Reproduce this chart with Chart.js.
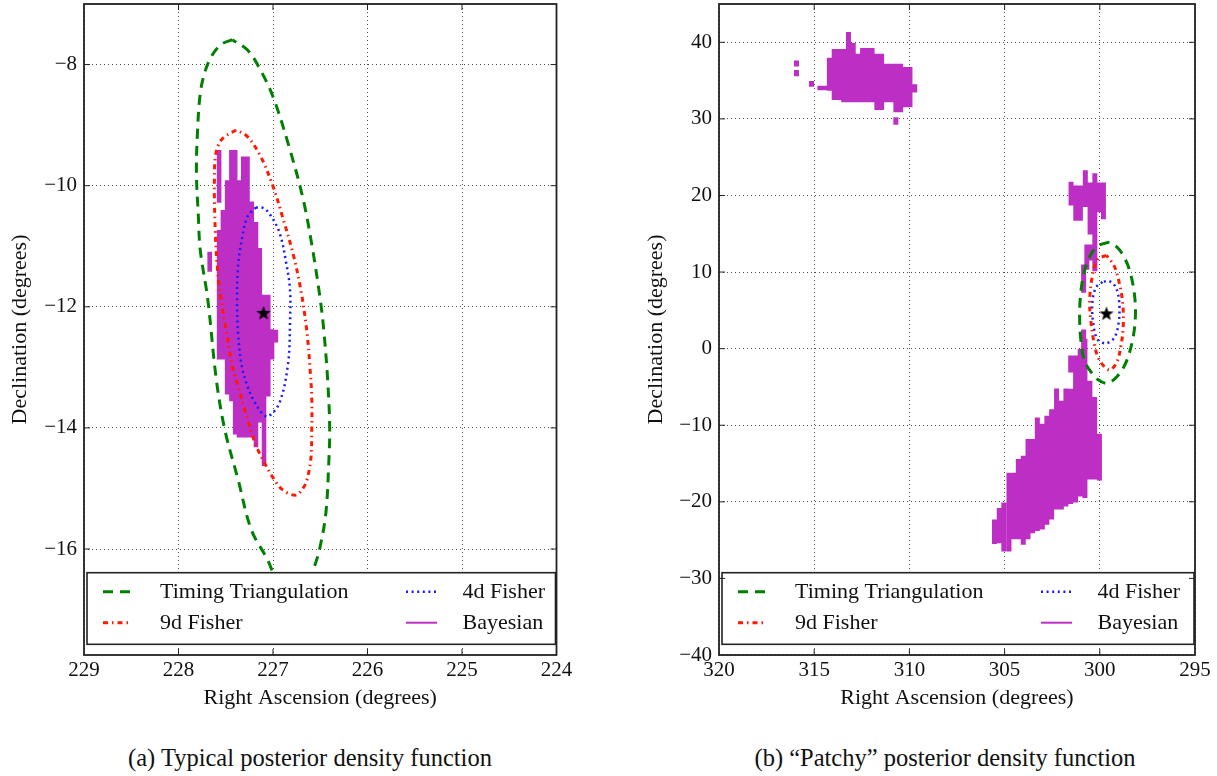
<!DOCTYPE html>
<html>
<head>
<meta charset="utf-8">
<script src="https://cdn.jsdelivr.net/npm/chart.js@4.4.1/dist/chart.umd.min.js"></script>
<style>
  body { margin: 0; background: #fff; width: 1217px; height: 776px; position: relative; overflow: hidden; font-family: "Liberation Serif", serif; }
  #wrapA { position: absolute; left: 0; top: -6px; }
  #wrapB { position: absolute; left: 636px; top: -6px; }
  .cap { position: absolute; top: 744px; font-size: 24.5px; line-height: 28px; white-space: nowrap; transform: translateX(-50%); color: #111; }
</style>
</head>
<body>
<div id="wrapA"><canvas id="chartA" width="600" height="717"></canvas></div>
<div id="wrapB"><canvas id="chartB" width="581" height="717"></canvas></div>
<div class="cap" style="left:310px">(a) Typical posterior density function</div>
<div class="cap" style="left:945px">(b) “Patchy” posterior density function</div>
<script>
// series names, same in both panels
const seriesLabels = ["Timing Triangulation", "9d Fisher", "4d Fisher", "Bayesian"];

// axis ranges [min, max]
const leftRA = [224, 229];
const leftDec = [-17.75, -7];
const rightRA = [295, 320];
const rightDec = [-40, 45];

// (a) contours as [RA, Dec]
const leftTriangulation = [[227.43,-7.59],[227.55,-7.67],[227.65,-7.86],[227.72,-8.12],[227.77,-8.48],[227.80,-9.14],[227.81,-9.8],[227.79,-10.5],[227.77,-11.06],[227.69,-11.88],[227.6,-13.2],[227.51,-14.03],[227.37,-14.85],[227.23,-15.68],[227.06,-16.17],[226.95,-16.55],[226.8,-16.8],[226.65,-16.6],[226.56,-16.28],[226.5,-15.95],[226.44,-15.4],[226.41,-14.58],[226.40,-14.0],[226.42,-13.25],[226.46,-12.43],[226.5,-11.88],[226.58,-11.06],[226.68,-10.23],[226.82,-9.41],[227.0,-8.53],[227.15,-8.04],[227.27,-7.76],[227.43,-7.59]];
const leftFisher9 = [[227.39,-9.08],[227.51,-9.19],[227.57,-9.3],[227.61,-9.52],[227.62,-9.9],[227.62,-10.23],[227.61,-10.78],[227.59,-11.33],[227.55,-11.88],[227.49,-12.43],[227.43,-12.98],[227.37,-13.31],[227.29,-13.75],[227.19,-14.25],[227.11,-14.52],[227.0,-14.82],[226.9,-15.02],[226.76,-15.11],[226.68,-14.99],[226.64,-14.85],[226.6,-14.52],[226.59,-14.03],[226.59,-13.5],[226.61,-12.98],[226.64,-12.43],[226.7,-11.77],[226.78,-11.17],[226.9,-10.51],[227.0,-10.01],[227.13,-9.52],[227.27,-9.19],[227.39,-9.08]];
const leftFisher4 = [[227.18,-10.36],[227.27,-10.51],[227.33,-10.89],[227.37,-11.33],[227.38,-11.88],[227.37,-12.43],[227.33,-12.98],[227.27,-13.31],[227.21,-13.53],[227.12,-13.75],[227.05,-13.81],[226.93,-13.58],[226.84,-12.93],[226.82,-12.27],[226.82,-11.72],[226.86,-11.28],[226.93,-10.78],[227.03,-10.48],[227.1,-10.37],[227.18,-10.36]];
// posterior cells as [RA, Dec low, Dec high]
const leftBayesCols = [[227.67,-11.42,-11.09],[227.57,-10.28,-9.41],[227.57,-12.87,-10.73],[227.53,-12.87,-10.40],[227.485,-13.45,-9.91],[227.44,-13.56,-9.41],[227.40,-14.11,-9.41],[227.36,-14.16,-9.91],[227.315,-14.16,-9.52],[227.27,-14.16,-9.52],[227.225,-14.16,-10.26],[227.18,-14.32,-10.6],[227.14,-13.91,-11.03],[227.095,-14.63,-11.80],[227.05,-13.48,-11.80],[227.01,-12.87,-12.37],[226.97,-12.59,-12.38]];
const leftInjection = [227.1, -12.1];

// (b)
const rightTriangulation = [[299.51,13.91],[300.12,13.39],[300.56,11.87],[300.83,9.91],[301.0,7.3],[301.06,4.26],[301.0,1.22],[300.83,-1.39],[300.56,-2.7],[300.12,-4.0],[299.6,-4.52],[299.07,-3.57],[298.63,-1.83],[298.27,1.22],[298.13,4.26],[298.19,7.3],[298.45,10.35],[298.8,12.3],[299.15,13.39],[299.51,13.91]];
const rightFisher9 = [[299.65,12.17],[300.12,11.65],[300.39,9.48],[300.53,6.43],[300.48,3.83],[300.3,0.78],[300.04,-1.39],[299.51,-2.78],[299.12,-1.83],[298.89,0.35],[298.77,2.96],[298.8,6.0],[298.98,8.61],[299.24,10.78],[299.65,12.17]];
const rightFisher4 = [[299.86,8.7],[300.21,7.96],[300.39,6.0],[300.35,3.39],[300.12,1.22],[299.68,0.7],[299.24,1.43],[299.01,3.39],[298.98,6.0],[299.15,7.96],[299.51,8.83],[299.86,8.7]];
const rightBayesCols = [
  // north patch
  [315.93,36.85,37.63],[315.93,35.56,36.38],[315.14,34.18,34.96],[314.70,33.75,34.31],[314.45,33.75,34.31],[314.20,33.66,37.97],[313.95,32.46,39.14],[313.70,32.46,39.14],[313.45,32.16,39.14],[313.20,32.16,41.34],[312.95,32.16,39.91],[312.70,32.16,38.49],[312.46,32.16,39.27],[312.21,32.16,39.27],[311.96,32.16,39.27],[311.71,31.16,38.49],[311.46,31.16,38.49],[311.21,32.16,37.20],[310.96,32.16,37.20],[310.71,30.86,37.20],[310.71,29.23,30.22],[310.46,30.86,37.20],[310.21,31.51,36.77],[309.97,31.51,36.77],[309.72,33.45,34.53],
  // middle patch
  [301.51,18.7,21.8],[301.26,16.7,21.3],[301.02,16.7,21.3],[300.76,18.5,23.3],[300.51,14.9,21.7],[300.51,11.5,13.6],[300.26,10.1,22.9],[300.02,17.8,21.7],[299.81,16.9,21.7],[300.85,7.3,11.0],[300.85,-1.0,2.5],[300.68,10.3,13.6],
  // south patch
  [305.53,-25.5,-22.3],[305.28,-25.4,-20.8],[305.04,-26.5,-20.1],[304.77,-26.5,-16.2],[304.53,-24.9,-16.2],[304.28,-24.9,-14.4],[304.02,-25.6,-14.0],[303.77,-24.9,-11.8],[303.53,-24.1,-11.8],[303.28,-23.8,-9.0],[303.02,-23.6,-9.8],[302.78,-23.0,-8.75],[302.53,-22.3,-7.9],[302.27,-21.0,-5.2],[302.02,-21.0,-6.8],[301.78,-20.6,-5.2],[301.53,-20.3,-5.25],[301.53,-3.1,-0.9],[301.27,-20.1,-0.9],[301.03,-19.3,0.0],[300.78,-19.5,1.3],[300.52,-17.1,-4.2],[300.27,-17.1,-6.3],[300.02,-17.2,-11.1]
];
const rightInjection = [299.65, 4.6];

const colors = { tri: "#008000", f9: "#ff1a00", f4: "#1a1aff", bayes: "#bd2fc4" };

Chart.defaults.font.family = "'Liberation Serif', serif";
Chart.defaults.color = "#000";

// filled five-point star for the injection point
const starImg = document.createElement("canvas");
starImg.width = 18; starImg.height = 18;
(function () {
  const c = starImg.getContext("2d");
  c.beginPath();
  for (let i = 0; i < 10; i++) {
    const r = i % 2 ? 3.1 : 7.6;
    const a = -Math.PI / 2 + i * Math.PI / 5;
    c.lineTo(9 + r * Math.cos(a), 9.6 + r * Math.sin(a));
  }
  c.closePath();
  c.fillStyle = "#000";
  c.fill();
})();

const toXY = arr => arr.map(p => ({ x: p[0], y: p[1] }));
function colsToPoints(cols) {
  const pts = [];
  cols.forEach(([ra, lo, hi]) => {
    pts.push({ x: ra, y: lo }, { x: ra, y: hi }, { x: ra, y: null });
  });
  return pts;
}
const minus = v => String(v).replace("-", "\u2212");

// legend box inside the plot + frame with inward ticks
const framePlugin = {
  id: "frameLegend",
  afterDatasetsDraw(chart) {
    const { ctx, chartArea: ca, scales } = chart;
    const ds = chart.data.datasets;
    ctx.save();
    // legend
    const bx = ca.left + 3, bw = ca.right - 1 - bx;
    const by = ca.bottom - 82.3, bh = 71.6;
    ctx.fillStyle = "#fff";
    ctx.fillRect(bx, by, bw, bh);
    ctx.strokeStyle = "#222";
    ctx.lineWidth = 1.6;
    ctx.strokeRect(bx, by, bw, bh);
    const rows = [ca.bottom - 63.3, ca.bottom - 32.3];
    const cols = [[19, 46, 76], [322, 353, 378.5]];
    const slots = [[1, 0, 0], [2, 0, 1], [3, 1, 0], [4, 1, 1]];
    ctx.font = "22px 'Liberation Serif', serif";
    ctx.textBaseline = "middle";
    ctx.textAlign = "left";
    slots.forEach(([di, c, r]) => {
      const d = ds[di];
      const y = rows[r];
      ctx.beginPath();
      ctx.setLineDash(d.borderDash || []);
      ctx.strokeStyle = d.borderColor;
      ctx.lineWidth = di === 4 ? 2 : d.borderWidth;
      ctx.moveTo(ca.left + cols[c][0], y);
      ctx.lineTo(ca.left + cols[c][1], y);
      ctx.stroke();
      ctx.setLineDash([]);
      ctx.fillStyle = "#111";
      ctx.fillText(d.label, ca.left + cols[c][2], y + 1);
    });
    // frame
    ctx.strokeStyle = "#222";
    ctx.lineWidth = 1.8;
    ctx.strokeRect(ca.left, ca.top, ca.right - ca.left, ca.bottom - ca.top);
    ctx.lineWidth = 1;
    ctx.beginPath();
    scales.x.ticks.forEach(t => {
      const px = scales.x.getPixelForValue(t.value);
      if (px <= ca.left + 1 || px >= ca.right - 1) return;
      ctx.moveTo(px, ca.bottom); ctx.lineTo(px, ca.bottom - 6);
      ctx.moveTo(px, ca.top); ctx.lineTo(px, ca.top + 6);
    });
    scales.y.ticks.forEach(t => {
      const py = scales.y.getPixelForValue(t.value);
      if (py <= ca.top + 1 || py >= ca.bottom - 1) return;
      ctx.moveTo(ca.left, py); ctx.lineTo(ca.left + 6, py);
      ctx.moveTo(ca.right, py); ctx.lineTo(ca.right - 6, py);
    });
    ctx.stroke();
    ctx.restore();
  }
};

function buildChart(id, p) {
  const line = (label, data, color, width, dash) => ({
    label, data: toXY(data), showLine: true, borderColor: color, backgroundColor: color,
    borderWidth: width, borderDash: dash, pointRadius: 0, tension: 0.35, fill: false
  });
  new Chart(document.getElementById(id), {
    type: "scatter",
    data: {
      datasets: [
        { label: "injection", data: [{ x: p.star[0], y: p.star[1] }], pointStyle: starImg, pointRadius: 9, showLine: false },
        line(seriesLabels[0], p.tri, colors.tri, 3, [10, 7]),
        line(seriesLabels[1], p.f9, colors.f9, 3, [5, 4, 1.5, 4]),
        line(seriesLabels[2], p.f4, colors.f4, 2.5, [2, 3.6]),
        {
          label: seriesLabels[3], data: colsToPoints(p.bayes), showLine: true, spanGaps: false,
          borderColor: colors.bayes, backgroundColor: colors.bayes, borderWidth: p.cellWidth,
          borderCapStyle: "butt", pointRadius: 0, tension: 0
        }
      ]
    },
    options: {
      responsive: false,
      animation: false,
      layout: { padding: { left: 0, top: 4, right: p.padRight, bottom: 0 } },
      plugins: { legend: { display: false }, tooltip: { enabled: false } },
      scales: {
        x: {
          type: "linear", reverse: true, min: p.ra[0], max: p.ra[1],
          afterFit: s => { s.height = 56; s.paddingLeft = 0; s.paddingRight = 0; },
          ticks: { stepSize: p.raStep, includeBounds: false, padding: 3, font: { size: 21 }, color: "#111", callback: minus, maxRotation: 0 },
          grid: { color: "rgba(0,0,0,0.7)", lineWidth: 1, drawTicks: false },
          border: { display: false, dash: [1, 3] },
          title: { display: true, text: "Right Ascension (degrees)", font: { size: 22 }, color: "#111", padding: { top: 0, bottom: 0 } }
        },
        y: {
          type: "linear", min: p.dec[0], max: p.dec[1],
          afterFit: s => { s.width = p.yWidth; s.paddingTop = 0; s.paddingBottom = 0; },
          ticks: { stepSize: p.decStep, includeBounds: false, padding: 7, font: { size: 21 }, color: "#111", callback: minus },
          grid: { color: "rgba(0,0,0,0.7)", lineWidth: 1, drawTicks: false },
          border: { display: false, dash: [1, 3] },
          title: { display: true, text: "Declination (degrees)", font: { size: 22 }, color: "#111", padding: { top: 7, bottom: 0 } }
        }
      }
    },
    plugins: [framePlugin]
  });
}

buildChart("chartA", {
  ra: leftRA, dec: leftDec, raStep: 1, decStep: 2, yWidth: 84, padRight: 43.5,
  tri: leftTriangulation, f9: leftFisher9, f4: leftFisher4, bayes: leftBayesCols,
  star: leftInjection, cellWidth: 4.6
});
buildChart("chartB", {
  ra: rightRA, dec: rightDec, raStep: 5, decStep: 10, yWidth: 83, padRight: 22,
  tri: rightTriangulation, f9: rightFisher9, f4: rightFisher4, bayes: rightBayesCols,
  star: rightInjection, cellWidth: 5
});
</script>
</body>
</html>
